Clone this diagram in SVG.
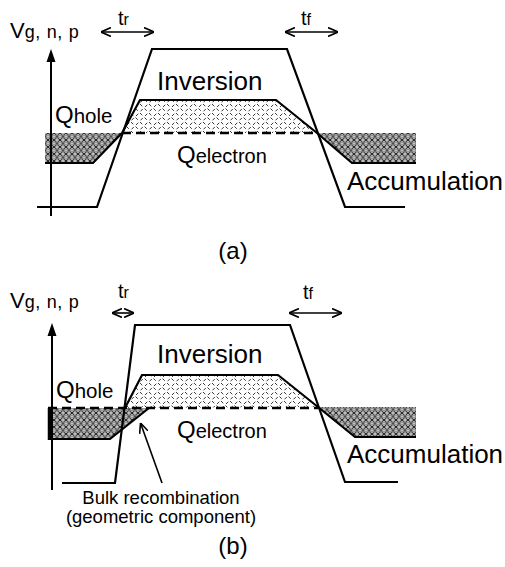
<svg xmlns="http://www.w3.org/2000/svg" width="505" height="567" viewBox="0 0 505 567">
<defs>
<style>
.ln{fill:none;stroke:#000;stroke-width:2.2;stroke-linejoin:miter}
.ax{fill:none;stroke:#000;stroke-width:2}
.dash{fill:none;stroke:#000;stroke-width:2.4;stroke-dasharray:9 5}
.ar{fill:none;stroke:#000;stroke-width:1.6}
.t{font-family:"Liberation Sans",Arial,sans-serif;fill:#000}
.hole{fill:url(#holeP);stroke:none}
.inv{fill:url(#invP);stroke:none}
</style>
<pattern id="holeP" width="6" height="7" patternUnits="userSpaceOnUse">
<rect width="6" height="7" fill="#fff"/>
<path d="M0,0 L6,7 M6,0 L0,7" stroke="#000" stroke-width="0.9"/>
<g fill="#fff" stroke="#000" stroke-width="0.5">
<circle cx="0" cy="3.5" r="1.5"/><circle cx="6" cy="3.5" r="1.5"/><circle cx="3" cy="0" r="1.5"/><circle cx="3" cy="7" r="1.5"/>
</g>
<g fill="#000">
<circle cx="0" cy="3.5" r="0.45"/><circle cx="6" cy="3.5" r="0.45"/><circle cx="3" cy="0" r="0.45"/><circle cx="3" cy="7" r="0.45"/>
</g>
</pattern>
<pattern id="invP" width="9" height="9" patternUnits="userSpaceOnUse">
<rect width="9" height="9" fill="#fff"/>
<path d="M0.5,0.5 L2.8,2.8 M5.5,3.3 L7.8,1 M1,8 L3.3,5.7 M5,5 L7.3,7.3" stroke="#222" stroke-width="0.9"/>
</pattern>
<marker id="ah" viewBox="0 0 10 10" refX="10" refY="5" markerWidth="10" markerHeight="10" markerUnits="userSpaceOnUse" orient="auto-start-reverse">
<path d="M0,0.5 L10,5 L0,9.5" fill="none" stroke="#000" stroke-width="1.6"/>
</marker>
</defs>

<!-- Panel (a) -->
<g id="panel-a">
<g id="a-regions">
<polygon class="hole" points="45,133 122,133 93,163 45,163"/>
<polygon class="hole" points="317,133 416,133 416,163 352,163"/>
<polygon class="inv" points="122,133 140,100 276,100 317,133"/>
</g>
<g id="a-axis">
<line class="ax" x1="51" y1="216" x2="51" y2="58"/>
<path d="M46.5,62 L51,49 L55.5,62 Z" fill="#000"/>
</g>
<g id="a-connectors">
<polyline class="ln" points="37,207 97,207 152,49 287,49 345,207 405,207"/>
<polyline class="ln" points="45,163 93,163 122,133"/>
<polyline class="ln" points="122,133 140,100 276,100 317,133 352,163 416,163"/>
<line class="dash" x1="122" y1="133" x2="317" y2="133"/>
<line class="ar" x1="101" y1="32" x2="154" y2="32" marker-start="url(#ah)" marker-end="url(#ah)"/>
<line class="ar" x1="285" y1="32" x2="338" y2="32" marker-start="url(#ah)" marker-end="url(#ah)"/>
</g>
<g id="a-labels">
<text class="t" x="10" y="38" font-size="22">V<tspan font-size="18" textLength="54">g, n, p</tspan></text>
<text class="t" x="118" y="25" font-size="20">t<tspan font-size="16">r</tspan></text>
<text class="t" x="301" y="25" font-size="20">t<tspan font-size="16">f</tspan></text>
<text class="t" x="55" y="123" font-size="24">Q<tspan font-size="20.5">hole</tspan></text>
<text class="t" x="157" y="90" font-size="26">Inversion</text>
<text class="t" x="177" y="163" font-size="24">Q<tspan font-size="20">electron</tspan></text>
<text class="t" x="347" y="190" font-size="26">Accumulation</text>
<text class="t" x="233" y="259" font-size="24" text-anchor="middle">(a)</text>
</g>
</g>

<!-- Panel (b) -->
<g id="panel-b">
<g id="b-regions">
<polygon class="hole" points="48,408 149,408 110,439 48,439"/>
<polygon class="hole" points="318,407 416,407 416,437 355,437"/>
<polygon class="inv" points="125,408 142,375 278,375 318,407"/>
</g>
<g id="b-axis">
<line class="ax" x1="52" y1="490" x2="52" y2="332"/>
<path d="M47.5,336 L52,323 L56.5,336 Z" fill="#000"/>
</g>
<g id="b-connectors">
<polyline class="ln" points="62,483 115,483 135,325 290,325 345,482 398,482"/>
<line x1="49.5" y1="408" x2="49.5" y2="440" stroke="#000" stroke-width="3.5"/>
<polyline class="ln" points="48,439 110,439 149,408"/>
<polyline class="ln" points="125,408 142,375 278,375 318,407 355,437 416,437"/>
<line class="dash" x1="48" y1="408" x2="318" y2="408"/>
<line class="ar" x1="112" y1="313" x2="134" y2="313" marker-start="url(#ah)" marker-end="url(#ah)"/>
<line class="ar" x1="289" y1="313" x2="342" y2="313" marker-start="url(#ah)" marker-end="url(#ah)"/>
<line class="ar" x1="162" y1="483" x2="140.5" y2="423" marker-end="url(#ah)" stroke-width="2"/>
</g>
<g id="b-labels">
<text class="t" x="10" y="308" font-size="22">V<tspan font-size="18" textLength="54">g, n, p</tspan></text>
<text class="t" x="118" y="298" font-size="20">t<tspan font-size="16">r</tspan></text>
<text class="t" x="303" y="299" font-size="20">t<tspan font-size="16">f</tspan></text>
<text class="t" x="56" y="398" font-size="24">Q<tspan font-size="20.5">hole</tspan></text>
<text class="t" x="157" y="363" font-size="26">Inversion</text>
<text class="t" x="177" y="438" font-size="24">Q<tspan font-size="20">electron</tspan></text>
<text class="t" x="347" y="463" font-size="26">Accumulation</text>
<text class="t" x="161" y="504" font-size="18.5" text-anchor="middle">Bulk recombination</text>
<text class="t" x="161" y="523" font-size="18.5" text-anchor="middle">(geometric component)</text>
<text class="t" x="233" y="554" font-size="24" text-anchor="middle">(b)</text>
</g>
</g>
</svg>
